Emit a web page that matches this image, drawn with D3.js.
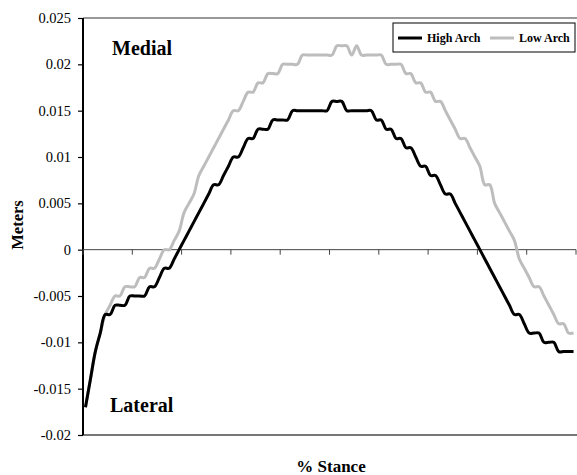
<!DOCTYPE html>
<html lang="en">
<head>
<meta charset="utf-8">
<title>Medial / Lateral displacement</title>
<script src="https://d3js.org/d3.v7.min.js"></script>
<style>
  body { margin: 0; background: #fff; }
  svg text { font-family: "Liberation Serif", "Times New Roman", serif; }
</style>
</head>
<body>
<script>
// % stance, 100 samples
var stance = d3.range(1, 101);

// values in meters (0.001 steps)
var highArch = [
  -0.017, -0.014, -0.011, -0.009, -0.007, -0.007, -0.006, -0.006, -0.006, -0.005,
  -0.005, -0.005, -0.005, -0.004, -0.004, -0.003, -0.002, -0.002, -0.001, 0.000,
   0.001,  0.002,  0.003,  0.004,  0.005,  0.006,  0.007,  0.007,  0.008,  0.009,
   0.010,  0.010,  0.011,  0.012,  0.012,  0.013,  0.013,  0.013,  0.014,  0.014,
   0.014,  0.014,  0.015,  0.015,  0.015,  0.015,  0.015,  0.015,  0.015,  0.015,
   0.016,  0.016,  0.016,  0.015,  0.015,  0.015,  0.015,  0.015,  0.015,  0.014,
   0.014,  0.013,  0.013,  0.012,  0.012,  0.011,  0.011,  0.010,  0.009,  0.009,
   0.008,  0.008,  0.007,  0.006,  0.006,  0.005,  0.004,  0.003,  0.002,  0.001,
   0.000, -0.001, -0.002, -0.003, -0.004, -0.005, -0.006, -0.007, -0.007, -0.008,
  -0.009, -0.009, -0.009, -0.010, -0.010, -0.010, -0.011, -0.011, -0.011, -0.011
];
var lowArch = [
  -0.017, -0.014, -0.011, -0.009, -0.007, -0.006, -0.005, -0.005, -0.004, -0.004,
  -0.004, -0.003, -0.003, -0.002, -0.002, -0.001,  0.000,  0.000,  0.001,  0.002,
   0.004,  0.005,  0.006,  0.008,  0.009,  0.010,  0.011,  0.012,  0.013,  0.014,
   0.015,  0.015,  0.016,  0.017,  0.017,  0.018,  0.018,  0.019,  0.019,  0.019,
   0.020,  0.020,  0.020,  0.020,  0.021,  0.021,  0.021,  0.021,  0.021,  0.021,
   0.021,  0.022,  0.022,  0.022,  0.021,  0.022,  0.021,  0.021,  0.021,  0.021,
   0.021,  0.020,  0.020,  0.020,  0.020,  0.019,  0.019,  0.018,  0.018,  0.017,
   0.017,  0.016,  0.016,  0.015,  0.014,  0.013,  0.012,  0.012,  0.011,  0.010,
   0.009,  0.007,  0.007,  0.005,  0.004,  0.003,  0.002,  0.001, -0.001, -0.002,
  -0.003, -0.004, -0.004, -0.005, -0.006, -0.007, -0.008, -0.008, -0.009, -0.009
];

var yTicks = [0.025, 0.02, 0.015, 0.01, 0.005, 0, -0.005, -0.01, -0.015, -0.02];
var yLabels = ["0.025", "0.02", "0.015", "0.01", "0.005", "0", "-0.005", "-0.01", "-0.015", "-0.02"];

var seriesNames = ["High Arch", "Low Arch"];
var seriesColors = ["#000000", "#bdbdbd"];

var w = 577, h = 475;
var plotLeft = 83, plotRight = 576, plotTop = 18, plotBottom = 435;

var svg = d3.select("body").append("svg")
  .attr("width", w)
  .attr("height", h);

var x = d3.scaleBand()
  .domain(stance)
  .range([plotLeft, plotRight])
  .paddingInner(0);

var y = d3.scaleLinear()
  .domain([-0.02, 0.025])
  .range([plotBottom, plotTop]);

// plot area frame (top and bottom edges)
svg.append("line")
  .attr("x1", plotLeft).attr("x2", w)
  .attr("y1", plotTop).attr("y2", plotTop)
  .attr("stroke", "#777").attr("stroke-width", 1.5);
svg.append("line")
  .attr("x1", plotLeft).attr("x2", w)
  .attr("y1", plotBottom).attr("y2", plotBottom)
  .attr("stroke", "#777").attr("stroke-width", 2);

// y axis
var yAxis = d3.axisLeft(y)
  .tickValues(yTicks)
  .tickSize(5)
  .tickFormat(function(d, i) { return yLabels[i]; });

var gy = svg.append("g")
  .attr("transform", "translate(" + plotLeft + ",0)")
  .call(yAxis);
gy.select(".domain").attr("stroke", "#000").attr("stroke-width", 2)
  .attr("d", "M0," + plotTop + "V" + plotBottom);
gy.selectAll(".tick line").attr("stroke", "#000").attr("stroke-width", 1.2);
gy.selectAll(".tick text")
  .attr("x", -12)
  .style("font-size", "14.5px")
  .style("font-family", "'Liberation Serif', serif")
  .attr("fill", "#000");

// x axis on zero line, tick marks only
var xTicks = stance.filter(function(d) { return (d - 1) % 10 === 0; });
var xAxis = d3.axisBottom(x)
  .tickValues(xTicks)
  .tickSize(5)
  .tickFormat("");
var gx = svg.append("g")
  .attr("transform", "translate(" + (-x.bandwidth() / 2) + "," + y(0) + ")")
  .call(xAxis);
gx.select(".domain").remove();
gx.selectAll(".tick line").attr("stroke", "#444").attr("stroke-width", 1);
svg.append("line")
  .attr("x1", plotLeft).attr("x2", plotRight)
  .attr("y1", y(0)).attr("y2", y(0))
  .attr("stroke", "#444").attr("stroke-width", 1);
svg.append("line")
  .attr("x1", plotRight).attr("x2", plotRight)
  .attr("y1", y(0)).attr("y2", y(0) + 5)
  .attr("stroke", "#444").attr("stroke-width", 1);

// lines (smoothed like the original)
var line = d3.line()
  .x(function(d, i) { return x(stance[i]) + x.bandwidth() / 2; })
  .y(function(d) { return y(d); })
  .curve(d3.curveCatmullRom.alpha(0.5));

[lowArch, highArch].forEach(function(data, k) {
  var idx = k === 0 ? 1 : 0;
  svg.append("path")
    .datum(data)
    .attr("d", line)
    .attr("fill", "none")
    .attr("stroke", seriesColors[idx])
    .attr("stroke-width", 3)
    .attr("stroke-linejoin", "round");
});

// region labels
svg.append("text")
  .attr("x", 112).attr("y", 55)
  .style("font-size", "20px").style("font-weight", "bold")
  .text("Medial");
svg.append("text")
  .attr("x", 110).attr("y", 412)
  .style("font-size", "20px").style("font-weight", "bold")
  .text("Lateral");

// axis titles
svg.append("text")
  .attr("transform", "translate(23,225) rotate(-90)")
  .attr("text-anchor", "middle")
  .style("font-size", "16.5px").style("font-weight", "bold")
  .text("Meters");
svg.append("text")
  .attr("x", 331).attr("y", 472)
  .attr("text-anchor", "middle")
  .style("font-size", "17px").style("font-weight", "bold")
  .text("% Stance");

// legend
var legend = svg.append("g");
legend.append("rect")
  .attr("x", 393).attr("y", 23)
  .attr("width", 182).attr("height", 29)
  .attr("fill", "#fff")
  .attr("stroke", "#000").attr("stroke-width", 1);
var legX = [398, 490];
seriesNames.forEach(function(name, i) {
  legend.append("line")
    .attr("x1", legX[i]).attr("x2", legX[i] + 24)
    .attr("y1", 38).attr("y2", 38)
    .attr("stroke", seriesColors[i]).attr("stroke-width", 3);
  legend.append("text")
    .attr("x", legX[i] + 29).attr("y", 42)
    .style("font-size", "12px").style("font-weight", "bold")
    .text(name);
});
</script>
</body>
</html>
